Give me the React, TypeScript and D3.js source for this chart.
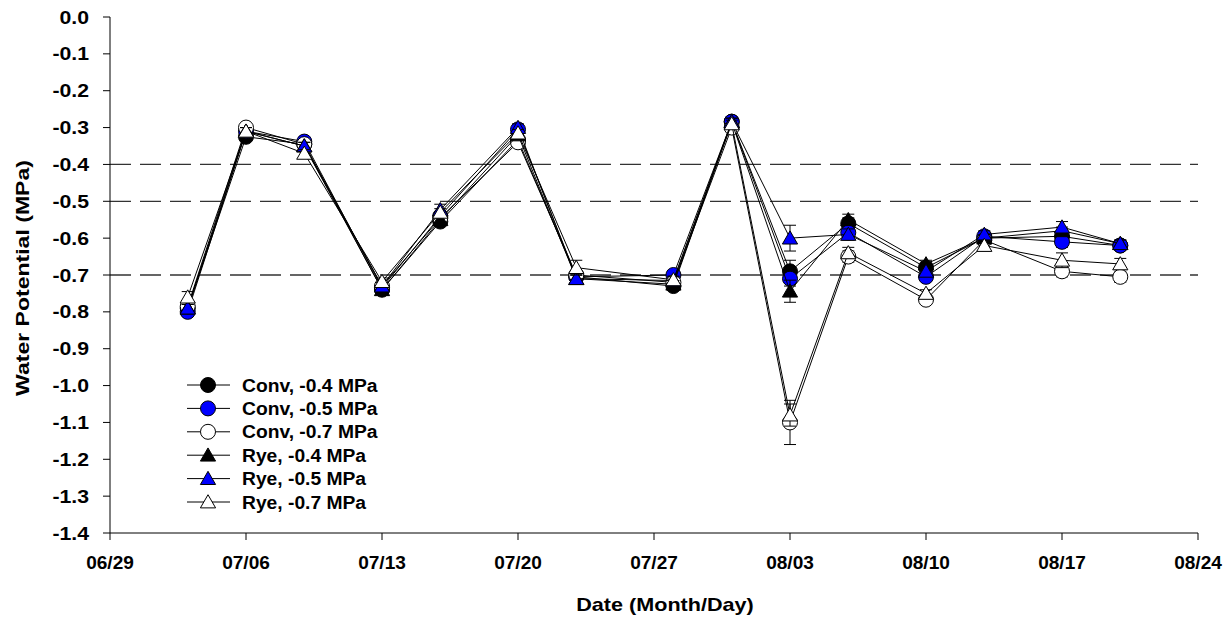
import React from "react";
import * as d3 from "d3";

// sampling dates (month/day)
const dates = ["07/03", "07/06", "07/09", "07/13", "07/16", "07/20", "07/23", "07/28", "07/31", "08/03", "08/06", "08/10", "08/13", "08/17", "08/20"];
const tickDates = ["06/29", "07/06", "07/13", "07/20", "07/27", "08/03", "08/10", "08/17", "08/24"];
const yTicks = [0, -0.1, -0.2, -0.3, -0.4, -0.5, -0.6, -0.7, -0.8, -0.9, -1.0, -1.1, -1.2, -1.3, -1.4];
const refLines = [-0.4, -0.5, -0.7];

const convLow = [-0.79, -0.325, -0.345, -0.74, -0.555, -0.333, -0.705, -0.73, -0.284, -0.69, -0.56, -0.68, -0.60, -0.595, -0.62];
const convMid = [-0.80, -0.31, -0.338, -0.735, -0.54, -0.305, -0.705, -0.70, -0.284, -0.71, -0.585, -0.705, -0.595, -0.61, -0.62];
const convHigh = [-0.785, -0.30, -0.345, -0.73, -0.545, -0.34, -0.70, -0.72, -0.30, -1.10, -0.65, -0.767, -0.605, -0.69, -0.705];
const ryeLow = [-0.79, -0.31, -0.35, -0.74, -0.55, -0.32, -0.71, -0.725, -0.285, -0.744, -0.55, -0.67, -0.60, -0.58, -0.615];
const ryeMid = [-0.79, -0.31, -0.35, -0.73, -0.523, -0.30, -0.71, -0.715, -0.284, -0.60, -0.59, -0.69, -0.59, -0.57, -0.615];
const ryeHigh = [-0.76, -0.31, -0.37, -0.718, -0.53, -0.315, -0.68, -0.713, -0.29, -1.08, -0.64, -0.75, -0.62, -0.66, -0.67];

const convLowErr = [0.01, 0.01, 0.01, 0.01, 0.01, 0.01, 0.01, 0.01, 0.01, 0.03, 0.015, 0.01, 0.01, 0.01, 0.01];
const convMidErr = [0.01, 0.01, 0.01, 0.01, 0.01, 0.01, 0.01, 0.01, 0.01, 0.02, 0.015, 0.01, 0.01, 0.015, 0.01];
const convHighErr = [0.01, 0.01, 0.01, 0.01, 0.01, 0.01, 0.01, 0.01, 0.01, 0.06, 0.015, 0.01, 0.01, 0.015, 0.015];
const ryeLowErr = [0.01, 0.01, 0.01, 0.01, 0.01, 0.01, 0.01, 0.01, 0.01, 0.03, 0.015, 0.01, 0.01, 0.01, 0.01];
const ryeMidErr = [0.01, 0.01, 0.01, 0.01, 0.015, 0.01, 0.01, 0.01, 0.01, 0.035, 0.015, 0.01, 0.01, 0.015, 0.01];
const ryeHighErr = [0.015, 0.01, 0.01, 0.01, 0.01, 0.01, 0.02, 0.01, 0.01, 0.03, 0.015, 0.01, 0.015, 0.02, 0.015];

const seriesNames = ["Conv, -0.4 MPa", "Conv, -0.5 MPa", "Conv, -0.7 MPa", "Rye, -0.4 MPa", "Rye, -0.5 MPa", "Rye, -0.7 MPa"];

const series = [
  { name: seriesNames[0], values: convLow, err: convLowErr, shape: "circle", fill: "#000000" },
  { name: seriesNames[1], values: convMid, err: convMidErr, shape: "circle", fill: "#0000ff" },
  { name: seriesNames[2], values: convHigh, err: convHighErr, shape: "circle", fill: "#ffffff" },
  { name: seriesNames[3], values: ryeLow, err: ryeLowErr, shape: "triangle", fill: "#000000" },
  { name: seriesNames[4], values: ryeMid, err: ryeMidErr, shape: "triangle", fill: "#0000ff" },
  { name: seriesNames[5], values: ryeHigh, err: ryeHighErr, shape: "triangle", fill: "#ffffff" },
];

const parse = d3.timeParse("%Y/%m/%d");
const toDate = (md: string) => parse("2004/" + md) as Date;

const W = 1230;
const H = 621;
const left = 110;
const right = 1198;
const top = 17;
const bottom = 533;
const FONT = "'Liberation Sans', Arial, sans-serif";

function Marker({ shape, fill, x, y }: { shape: string; fill: string; x: number; y: number }) {
  if (shape === "circle") {
    return <circle cx={x} cy={y} r={7.5} fill={fill} stroke="#000" strokeWidth={1} />;
  }
  const tri = d3.symbol().type(d3.symbolTriangle).size(100)();
  return <path d={tri || ""} transform={`translate(${x},${y + 1.5})`} fill={fill} stroke="#000" strokeWidth={1} />;
}

// bold text, a little wider than the font draws it
function Label({ x, y, sx, anchor, size, rotate, children }: any) {
  return (
    <text
      transform={`translate(${x},${y})${rotate ? ` rotate(${rotate})` : ""} scale(${sx},1)`}
      textAnchor={anchor}
      fontFamily={FONT}
      fontWeight="bold"
      fontSize={size}
    >
      {children}
    </text>
  );
}

export default function App() {
  const x = d3.scaleTime().domain([toDate("06/29"), toDate("08/24")]).range([left, right]);
  const y = d3.scaleLinear().domain([-1.4, 0]).range([bottom, top]);
  const fmt = d3.timeFormat("%m/%d");

  const line = d3
    .line<number>()
    .x((_, i) => x(toDate(dates[i])))
    .y((d) => y(d));

  return (
    <svg width={W} height={H} style={{ display: "block", position: "absolute", left: 0, top: 0 }}>
      <rect width={W} height={H} fill="#fff" />

      {/* reference lines */}
      {refLines.map((v) => (
        <line key={v} x1={left} x2={right} y1={y(v)} y2={y(v)} stroke="#333" strokeWidth={1.3} strokeDasharray="21,9" />
      ))}

      {/* axes */}
      <line x1={left} x2={left} y1={top} y2={bottom} stroke="#000" />
      <line x1={left} x2={right} y1={bottom} y2={bottom} stroke="#000" />
      {yTicks.map((t) => (
        <g key={t}>
          <line x1={left - 7} x2={left} y1={y(t)} y2={y(t)} stroke="#000" />
          <Label x={89} y={y(t) + 6.5} sx={1.18} anchor="end" size={18}>
            {t === 0 ? "0.0" : t.toFixed(1)}
          </Label>
        </g>
      ))}
      {tickDates.map((t) => (
        <g key={t}>
          <line x1={x(toDate(t))} x2={x(toDate(t))} y1={bottom} y2={bottom + 7} stroke="#000" />
          <Label x={x(toDate(t))} y={569} sx={1.06} anchor="middle" size={18}>
            {fmt(toDate(t))}
          </Label>
        </g>
      ))}
      <Label x={665} y={611} sx={1.2} anchor="middle" size={18}>
        Date (Month/Day)
      </Label>
      <Label x={29} y={278} sx={1.28} anchor="middle" size={18} rotate={-90}>
        Water Potential (MPa)
      </Label>

      {/* series */}
      {series.map((s) => (
        <g key={s.name}>
          <path d={line(s.values) || ""} fill="none" stroke="#000" strokeWidth={1} />
          {s.values.map((v, i) => {
            const cx = x(toDate(dates[i]));
            const e = s.err[i];
            return (
              <g key={i}>
                <line x1={cx} x2={cx} y1={y(v - e)} y2={y(v + e)} stroke="#000" />
                <line x1={cx - 6} x2={cx + 6} y1={y(v - e)} y2={y(v - e)} stroke="#000" />
                <line x1={cx - 6} x2={cx + 6} y1={y(v + e)} y2={y(v + e)} stroke="#000" />
                <Marker shape={s.shape} fill={s.fill} x={cx} y={y(v)} />
              </g>
            );
          })}
        </g>
      ))}

      {/* legend */}
      {series.map((s, i) => {
        const ly = 385 + i * 23.4;
        return (
          <g key={"lg" + s.name}>
            <line x1={187} x2={230} y1={ly} y2={ly} stroke="#000" />
            <Marker shape={s.shape} fill={s.fill} x={208} y={ly} />
            <Label x={242} y={ly + 6.5} sx={1.07} anchor="start" size={18}>
              {s.name}
            </Label>
          </g>
        );
      })}
    </svg>
  );
}
